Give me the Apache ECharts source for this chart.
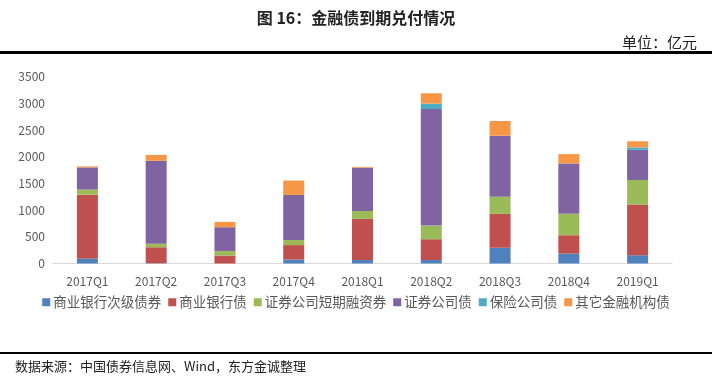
<!DOCTYPE html>
<html><head><meta charset="utf-8">
<script src="https://cdn.jsdelivr.net/npm/echarts@6/dist/echarts.min.js"></script>
<style>html,body{margin:0;padding:0;background:#fff}#c{width:712px;height:382px}</style>
</head><body><div id="c"></div>
<script>
var categories = ['2017Q1','2017Q2','2017Q3','2017Q4','2018Q1','2018Q2','2018Q3','2018Q4','2019Q1'];
var seriesNames = ['商业银行次级债券','商业银行债','证券公司短期融资券','证券公司债','保险公司债','其它金融机构债'];
var subordinated = [95, 5, 0, 75, 65, 65, 295, 185, 155];
var bankBonds = [1195, 300, 150, 270, 770, 390, 635, 345, 950];
var secShortTerm = [95, 65, 85, 95, 150, 255, 320, 400, 460];
var secBonds = [415, 1555, 445, 845, 810, 2185, 1145, 945, 565];
var insurance = [0, 0, 0, 0, 0, 100, 0, 0, 45];
var otherFin = [20, 110, 100, 270, 15, 195, 275, 175, 115];
var yTicks = [0, 500, 1000, 1500, 2000, 2500, 3000, 3500];
var colors = ['#4F81BD','#C0504D','#9BBB59','#8064A2','#4BACC6','#F79646'];
var allData = [subordinated, bankBonds, secShortTerm, secBonds, insurance, otherFin];

var chart = echarts.init(document.getElementById('c'));
var font = '"Noto Sans CJK SC", "Microsoft YaHei", sans-serif';
chart.setOption({
  animation: false,
  color: colors,
  title: [
    {text: '图 16：金融债到期兑付情况', left: 'center', top: 5,
     textStyle: {fontFamily: font, fontSize: 16, fontWeight: 'bold', color: '#222'}},
    {text: '单位：亿元', right: 10, top: 30,
     textStyle: {fontFamily: font, fontSize: 15, fontWeight: 'normal', color: '#222'}},
    {text: '数据来源：中国债券信息网、Wind，东方金诚整理', left: 10, top: 355,
     textStyle: {fontFamily: font, fontSize: 13, fontWeight: 'normal', color: '#222'}}
  ],
  graphic: [
    {type: 'rect', shape: {x: 0, y: 51, width: 712, height: 3}, style: {fill: '#000'}},
    {type: 'rect', shape: {x: 0, y: 352, width: 712, height: 2}, style: {fill: '#000'}}
  ],
  legend: {
    data: seriesNames, bottom: 68, left: 'center',
    itemWidth: 8, itemHeight: 8, itemGap: 7, icon: 'rect',
    textStyle: {fontFamily: font, fontSize: 13.5, color: '#595959', padding: [0,0,0,-2]}
  },
  grid: {left: 53, right: 40, top: 76.7, bottom: 118.5},
  xAxis: {
    type: 'category', data: categories,
    axisLine: {lineStyle: {color: '#D9D9D9'}},
    axisTick: {show: false},
    axisLabel: {fontFamily: font, fontSize: 12, color: '#595959', margin: 12}
  },
  yAxis: {
    type: 'value', min: 0, max: 3500, interval: 500,
    axisLine: {show: false}, axisTick: {show: false},
    splitLine: {show: false},
    axisLabel: {fontFamily: font, fontSize: 12, color: '#595959', margin: 8,
      formatter: function(v){ return yTicks.indexOf(v) >= 0 ? String(v) : ''; }}
  },
  series: seriesNames.map(function(n, i){
    return {name: n, type: 'bar', stack: 'total', barWidth: 21, data: allData[i]};
  })
});
</script></body></html>
